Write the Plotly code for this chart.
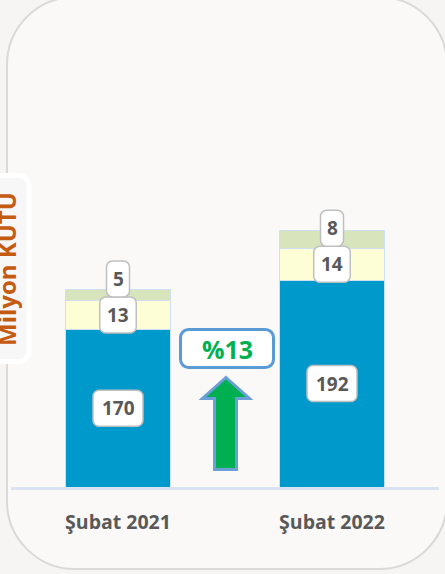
import plotly.graph_objects as go

# ---------------- data ----------------
categories = ["Şubat 2021", "Şubat 2022"]
base_values = [170, 192]   # blue segment
mid_values = [13, 14]      # light yellow segment
top_values = [5, 8]        # light green segment
growth_label = "%13"
y_title = "Milyon KUTU"

# ---------------- layout constants ----------------
W, H = 445, 574
PLOT_L, PLOT_R, PLOT_T, PLOT_B = 11, 439, 37, 487
Y_MIN, Y_MAX = 100, 300

BLUE = "#0099cc"
YELLOW = "#fefed6"
GREEN = "#d7e4bc"
TXT = "#595959"
FONT = "Open Sans"


def fx(x):
    return x / W


def fy(y):
    return 1 - y / H


def rounded_path(x0, y0, x1, y1, r, cx, cy):
    """Rounded rectangle path; inputs in screen pixels (y down)."""
    k = 0.5523 * r
    pts = [
        ("M", [(x0 + r, y0)]),
        ("L", [(x1 - r, y0)]),
        ("C", [(x1 - r + k, y0), (x1, y0 + r - k), (x1, y0 + r)]),
        ("L", [(x1, y1 - r)]),
        ("C", [(x1, y1 - r + k), (x1 - r + k, y1), (x1 - r, y1)]),
        ("L", [(x0 + r, y1)]),
        ("C", [(x0 + r - k, y1), (x0, y1 - r + k), (x0, y1 - r)]),
        ("L", [(x0, y0 + r)]),
        ("C", [(x0, y0 + r - k), (x0 + r - k, y0), (x0 + r, y0)]),
    ]
    s = ""
    for cmd, ps in pts:
        s += cmd + " ".join(f"{cx(px):.5f},{cy(py):.5f}" for px, py in ps)
    return s + "Z"


def poly_path(points, cx, cy):
    s = "M" + "L".join(f"{cx(px):.5f},{cy(py):.5f}" for px, py in points)
    return s + "Z"


fig = go.Figure()

for vals, col, name in [(base_values, BLUE, "base"), (mid_values, YELLOW, "mid"), (top_values, GREEN, "top")]:
    fig.add_trace(go.Bar(
        x=categories, y=vals, name=name,
        marker=dict(color=col, line=dict(color="#cfe0f0", width=1)),
        hoverinfo="skip", showlegend=False,
    ))

shapes = []
annotations = []

# card background
shapes.append(dict(type="path", xref="paper", yref="paper", layer="below",
                   path=rounded_path(7, -3, 447, 569, 68, fx, fy),
                   fillcolor="#faf9f7", line=dict(color="#d9d9d9", width=2)))

# value labels
def add_label(i, yval, text, shift_px=0):
    n = len(text)
    w = 9.5 + 13.5 * n
    h = 36
    shapes.append(dict(
        type="path", xref="x", yref="y", layer="above",
        xsizemode="pixel", ysizemode="pixel", xanchor=i, yanchor=yval,
        path=rounded_path(-w / 2, -h / 2 - shift_px, w / 2, h / 2 - shift_px, 6,
                          lambda v: v, lambda v: -v),
        fillcolor="white", line=dict(color="#bfbfbf", width=1.5),
    ))
    annotations.append(dict(
        x=i, y=yval, xref="x", yref="y", text=text, showarrow=False,
        xanchor="center", yanchor="middle",
        yshift=shift_px, font=dict(family=FONT, size=19, color=TXT, weight="bold"),
    ))


for i in range(len(categories)):
    b, m, t = base_values[i], mid_values[i], top_values[i]
    add_label(i, (b + Y_MIN) / 2, str(b))
    add_label(i, b + m / 2, str(m))
    add_label(i, b + m / 2, str(t), shift_px=36)

# growth box and arrow
shapes.append(dict(type="path", xref="paper", yref="paper", layer="above",
                   path=rounded_path(180.5, 329.5, 273.5, 367.5, 8, fx, fy),
                   fillcolor="white", line=dict(color="#5b9bd5", width=3)))
annotations.append(dict(x=fx(227), y=fy(349), xref="paper", yref="paper",
                        xanchor="center", yanchor="middle",
                        text=growth_label, showarrow=False,
                        font=dict(family=FONT, size=25, color="#00b050", weight="bold")))
arrow = [(226, 377.5), (249.5, 398.5), (236.5, 398.5), (236.5, 469.5),
         (214.5, 469.5), (214.5, 398.5), (202.5, 398.5)]
shapes.append(dict(type="path", xref="paper", yref="paper", layer="above",
                   path=poly_path(arrow, fx, fy),
                   fillcolor="#00b050", line=dict(color="#6a9fd8", width=3)))

# y-title box (partly outside)
shapes.append(dict(type="path", xref="paper", yref="paper", layer="above",
                   path=rounded_path(-12, 175.5, 29, 361.5, 10, fx, fy),
                   fillcolor="#f7f7f7", line=dict(color="white", width=5)))
annotations.append(dict(x=fx(6), y=fy(269), xref="paper", yref="paper",
                        xanchor="center", yanchor="middle",
                        text=y_title, showarrow=False, textangle=-90,
                        font=dict(family=FONT, size=24, color="#c55a11", weight="bold")))

fig.update_layout(
    width=W, height=H,
    margin=dict(l=0, r=0, t=0, b=0),
    paper_bgcolor="#f6f5f3",
    plot_bgcolor="rgba(0,0,0,0)",
    barmode="stack",
    bargap=0.51,
    shapes=shapes,
    annotations=annotations,
    xaxis=dict(
        domain=[fx(PLOT_L), fx(PLOT_R)],
        showline=True, linecolor="#dae3f1", linewidth=3,
        showgrid=False, zeroline=False, ticks="",
        tickfont=dict(family=FONT, size=19.5, color=TXT, weight="bold"),
        ticklabelstandoff=16,
        fixedrange=True,
    ),
    yaxis=dict(
        domain=[fy(PLOT_B), fy(PLOT_T)],
        range=[Y_MIN, Y_MAX],
        visible=False, showgrid=False, zeroline=False,
        fixedrange=True,
    ),
    showlegend=False,
)

fig.write_html(
    "out.html",
    config={"displayModeBar": False},
    post_script="document.body.style.margin='0';document.body.style.overflow='hidden';",
)
